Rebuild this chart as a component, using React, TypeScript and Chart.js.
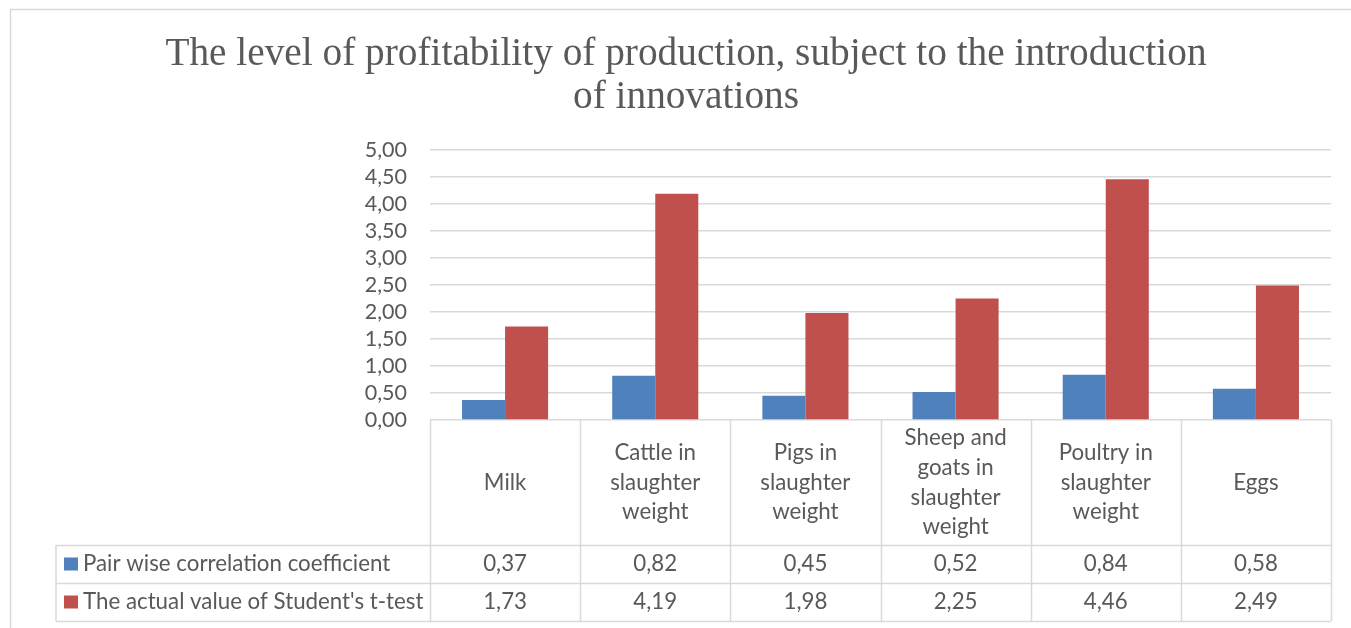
import React, { useEffect, useRef } from "react";
import { Chart, registerables } from "chart.js";

Chart.register(...registerables);

// Chart content
const titleLines = [
  "The level of profitability of production, subject to the introduction",
  "of innovations",
];
const categories: string[][] = [
  ["Milk"],
  ["Cattle in", "slaughter", "weight"],
  ["Pigs in", "slaughter", "weight"],
  ["Sheep and", "goats in", "slaughter", "weight"],
  ["Poultry in", "slaughter", "weight"],
  ["Eggs"],
];
const seriesNames = [
  "Pair wise correlation coefficient",
  "The actual value of Student's t-test",
];
const correlation = [0.37, 0.82, 0.45, 0.52, 0.84, 0.58];
const tTest = [1.73, 4.19, 1.98, 2.25, 4.46, 2.49];
const yMin = 0;
const yMax = 5;
const yStep = 0.5;

// Styling
const seriesColors = ["#4F81BD", "#C0504D"];
const textColor = "#595959";
const lineColor = "#D9D9D9";
const sansFont = "Lato, 'Noto Sans', sans-serif";
const serifFont = "'Liberation Serif', 'DejaVu Serif', serif";
const fontSize = 22.3;
const tickFontSize = 21.5;

const fmt = (v: number) => v.toFixed(2).replace(".", ",");

// Draws the outer frame, the title and the data table under the plot
const tablePlugin = {
  id: "dataTable",
  afterDraw(chart: any) {
    const ctx: CanvasRenderingContext2D = chart.ctx;
    const area = chart.chartArea;
    const n = categories.length;
    const colW = (area.right - area.left) / n;
    const tableLeft = 56;
    const headerBottom = area.bottom + 125;
    const rowH = 38;
    const rowsTop = [headerBottom, headerBottom + rowH];
    const tableBottom = headerBottom + 2 * rowH;

    ctx.save();

    // frame
    ctx.strokeStyle = lineColor;
    ctx.lineWidth = 1.5;
    ctx.beginPath();
    ctx.moveTo(10.5, chart.height + 2);
    ctx.lineTo(10.5, 9.5);
    ctx.lineTo(chart.width + 2, 9.5);
    ctx.stroke();

    // title
    ctx.fillStyle = textColor;
    ctx.font = `39.3px ${serifFont}`;
    ctx.textAlign = "center";
    ctx.textBaseline = "alphabetic";
    titleLines.forEach((line, i) => {
      ctx.fillText(line, 686, 65 + i * 43);
    });

    // table grid
    ctx.strokeStyle = lineColor;
    ctx.lineWidth = 1.5;
    ctx.beginPath();
    for (let k = 0; k <= n; k++) {
      const x = Math.round(area.left + k * colW) + 0.5;
      ctx.moveTo(x, area.bottom);
      ctx.lineTo(x, tableBottom);
    }
    ctx.moveTo(tableLeft, headerBottom);
    ctx.lineTo(tableLeft, tableBottom);
    [headerBottom, headerBottom + rowH, tableBottom].forEach((y) => {
      ctx.moveTo(tableLeft, y + 0.5);
      ctx.lineTo(area.right, y + 0.5);
    });
    ctx.stroke();

    // category headers
    ctx.font = `${fontSize}px ${sansFont}`;
    ctx.fillStyle = textColor;
    ctx.textAlign = "center";
    ctx.textBaseline = "middle";
    const headerMid = (area.bottom + headerBottom) / 2;
    const lh = 29.7;
    categories.forEach((lines, i) => {
      const cx = area.left + (i + 0.5) * colW;
      lines.forEach((line, j) => {
        const y = headerMid + (j - (lines.length - 1) / 2) * lh;
        ctx.fillText(line, cx, y);
      });
    });

    // series rows
    const series = [correlation, tTest];
    series.forEach((vals, r) => {
      const cy = rowsTop[r] + rowH / 2;
      ctx.fillStyle = seriesColors[r];
      ctx.fillRect(64, cy - 6.5, 14, 13);
      ctx.fillStyle = textColor;
      ctx.textAlign = "left";
      ctx.fillText(seriesNames[r], 83, cy);
      ctx.textAlign = "center";
      vals.forEach((v, i) => {
        ctx.fillText(fmt(v), area.left + (i + 0.5) * colW, cy);
      });
    });

    ctx.restore();
  },
};

export default function App() {
  const canvasRef = useRef<HTMLCanvasElement | null>(null);

  useEffect(() => {
    const canvas = canvasRef.current;
    if (!canvas) return;
    const chart = new Chart(canvas, {
      type: "bar",
      data: {
        labels: categories,
        datasets: [
          {
            label: seriesNames[0],
            data: correlation,
            backgroundColor: seriesColors[0],
          },
          {
            label: seriesNames[1],
            data: tTest,
            backgroundColor: seriesColors[1],
          },
        ],
      },
      options: {
        animation: false,
        responsive: false,
        devicePixelRatio: 1,
        layout: { padding: { top: 150, left: 0, right: 20, bottom: 208 } },
        datasets: {
          bar: { categoryPercentage: 0.5733, barPercentage: 1 },
        },
        plugins: {
          legend: { display: false },
          title: { display: false },
          tooltip: { enabled: false },
        },
        scales: {
          x: { display: false },
          y: {
            min: yMin,
            max: yMax,
            afterFit: (scale: any) => {
              scale.width = 430;
            },
            ticks: {
              stepSize: yStep,
              autoSkip: false,
              padding: 23,
              color: textColor,
              font: { family: sansFont, size: tickFontSize },
              callback: (v: any) => fmt(Number(v)),
            },
            grid: { color: lineColor, lineWidth: 1.5, drawTicks: false },
            border: { display: false },
          },
        },
      },
      plugins: [tablePlugin],
    });
    return () => chart.destroy();
  }, []);

  return (
    <div style={{ position: "absolute", left: 0, top: 0, width: 1351, height: 628, background: "#fff" }}>
      <canvas ref={canvasRef} width={1351} height={628} style={{ display: "block" }} />
    </div>
  );
}
